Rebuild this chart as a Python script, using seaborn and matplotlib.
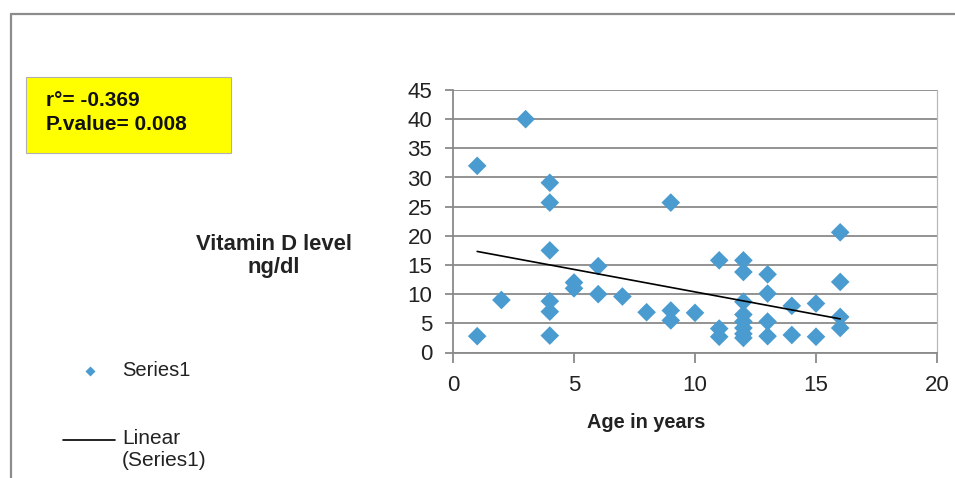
import matplotlib
matplotlib.use("Agg")
import matplotlib.pyplot as plt
from matplotlib.lines import Line2D
from matplotlib.patches import Rectangle
import seaborn as sns
import pandas as pd

# ---- data ----
age = [1, 1, 2, 3,
       4, 4, 4, 4, 4, 4,
       5, 5, 6, 6, 7, 8,
       9, 9, 9, 10,
       11, 11, 11,
       12, 12, 12, 12, 12, 12, 12, 12,
       13, 13, 13, 13,
       14, 14, 15, 15,
       16, 16, 16, 16]
vitd = [32.0, 2.8, 9.0, 40.0,
        29.1, 25.7, 17.5, 8.8, 7.0, 2.9,
        12.0, 11.0, 14.8, 10.0, 9.6, 6.9,
        25.7, 7.2, 5.5, 6.8,
        15.8, 4.1, 2.7,
        15.8, 13.8, 8.7, 6.5, 5.3, 4.2, 3.2, 2.5,
        13.4, 10.1, 5.3, 2.8,
        8.0, 3.0, 8.4, 2.7,
        20.6, 12.1, 6.1, 4.2]
stats_lines = ["r°= -0.369", "P.value= 0.008"]
x_ticks = [0, 5, 10, 15, 20]
y_ticks = [0, 5, 10, 15, 20, 25, 30, 35, 40, 45]
x_label = "Age in years"
y_label = "Vitamin D level\nng/dl"
legend_labels = ["Series1", "Linear\n(Series1)"]

df = pd.DataFrame({"age": age, "vitd": vitd})

sns.set_style("white")
plt.rcParams["font.family"] = ["Liberation Sans", "DejaVu Sans"]

W, H = 955, 478
fig = plt.figure(figsize=(W / 100, H / 100), dpi=100)
fig.patch.set_facecolor("white")

def fx(px):
    return px / W

def fy(py):
    return 1 - py / H

ax = fig.add_axes([fx(453), fy(352.5), (937 - 453) / W, (352.5 - 90) / H])

blue = "#4A9BCF"
grid_c = "#8a8a8a"

ax.yaxis.grid(True, color=grid_c, lw=1.3, zorder=0)
ax.set_axisbelow(True)

sns.scatterplot(data=df, x="age", y="vitd", marker="D", s=90, color=blue,
                edgecolor="none", linewidth=0, ax=ax, zorder=3, legend=False)
sns.regplot(data=df, x="age", y="vitd", scatter=False, ci=None, truncate=True,
            line_kws={"color": "black", "lw": 1.2, "zorder": 4}, ax=ax)

ax.set_xlim(0, 20)
ax.set_ylim(0, 45)
ax.set_xticks(x_ticks)
ax.set_yticks(y_ticks)
ax.tick_params(axis="both", direction="out", width=1.3, color=grid_c,
               labelsize=16, labelcolor="#222222", left=True, bottom=True)
ax.tick_params(axis="y", length=6, pad=9)
ax.tick_params(axis="x", length=7, pad=9)

for side in ["left", "bottom"]:
    ax.spines[side].set_color(grid_c)
    ax.spines[side].set_linewidth(1.3)
ax.spines["top"].set_visible(False)
ax.spines["right"].set_color("#b8b8b8")
ax.spines["right"].set_linewidth(0.9)

ax.set_xlabel(x_label, fontsize=14.3, fontweight="bold", color="#222222")
ax.xaxis.set_label_coords((646 - 453) / 484, (352.5 - 423) / 262.5)
ax.xaxis.label.set_va("center")
ax.set_ylabel(y_label, fontsize=15.8, fontweight="bold", color="#222222",
              rotation=0, ha="center", va="center", multialignment="center",
              linespacing=1.1)
ax.yaxis.set_label_coords((274 - 453) / 484, (352.5 - 256) / 262.5)

# chart-area border (top and left edges visible)
fig.add_artist(Line2D([fx(11), fx(11)], [fy(14), 0], transform=fig.transFigure,
                      color="#8c8c8c", lw=1.6))
fig.add_artist(Line2D([fx(11), 1], [fy(14), fy(14)], transform=fig.transFigure,
                      color="#8c8c8c", lw=1.6))

# yellow statistics box
fig.add_artist(Rectangle((fx(26), fy(153)), fx(231) - fx(26), fy(77) - fy(153),
                         transform=fig.transFigure, facecolor="#FFFF00",
                         edgecolor="#b0b0b0", lw=0.8))
fig.text(fx(46), fy(100), stats_lines[0], fontsize=15, fontweight="bold",
         ha="left", va="center", color="#111111")
fig.text(fx(46), fy(124), stats_lines[1], fontsize=15, fontweight="bold",
         ha="left", va="center", color="#111111")

# legend
fig.add_artist(Line2D([fx(90)], [fy(371)], transform=fig.transFigure,
                      marker="D", ms=5, color=blue, mec="none", ls="none"))
fig.text(fx(122), fy(371), legend_labels[0], fontsize=14.5, ha="left",
         va="center", color="#222222")
fig.add_artist(Line2D([fx(63), fx(115)], [fy(440), fy(440)],
                      transform=fig.transFigure, color="black", lw=1.2))
fig.text(fx(122), fy(429), legend_labels[1], fontsize=15, ha="left",
         va="top", color="#222222", linespacing=1.2)

fig.savefig("out.png", dpi=100, facecolor="white")
